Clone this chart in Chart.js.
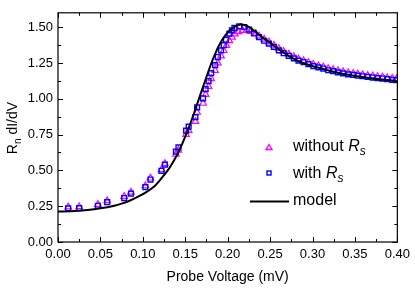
<!DOCTYPE html>
<html>
<head>
<meta charset="utf-8">
<script src="https://cdn.jsdelivr.net/npm/chart.js@4/dist/chart.umd.min.js"></script>
<style>
  html, body { margin: 0; padding: 0; background: #fff; }
  #wrap { width: 415px; height: 289px; position: relative; }
</style>
</head>
<body>
<div id="wrap"><canvas id="chart" width="415" height="289"></canvas></div>
<script>
// with R_s (blue squares)
const withRsV = [0.012,0.025,0.047,0.058,0.078,0.086,0.103,0.109,0.122,0.126,0.139,0.142,0.151,0.154,0.162,0.164,0.171,0.174,0.1775,0.1806,
  0.1852,0.1884,0.1922,0.1953,0.198,0.202,0.205,0.208,0.2137,0.2195,0.2253,0.231,0.237,0.243,0.2486,0.2545,0.2603,0.266,0.272,0.278,
  0.2835,0.2894,0.2952,0.301,0.307,0.3127,0.3185,0.3243,0.330,0.336,0.342,0.348,0.3534,0.359,0.365,0.371,0.3767,0.3825,0.388,0.394,0.399];
const withRsG = [0.235,0.236,0.253,0.278,0.307,0.338,0.383,0.436,0.497,0.540,0.631,0.660,0.777,0.805,0.872,0.940,1.003,1.067,1.123,1.179,
  1.235,1.291,1.338,1.374,1.412,1.455,1.478,1.495,1.506,1.501,1.483,1.456,1.430,1.405,1.385,1.362,1.338,1.318,1.300,1.282,
  1.266,1.255,1.242,1.228,1.219,1.211,1.199,1.193,1.184,1.177,1.170,1.166,1.161,1.157,1.152,1.148,1.144,1.141,1.137,1.132,1.130];

// without R_s (magenta triangles)
const noRsV = [0.012,0.025,0.047,0.058,0.078,0.086,0.103,0.109,0.122,0.126,0.139,0.142,0.151,0.154,0.162,0.164,0.171,0.174,0.1775,0.1806,
  0.1852,0.1884,0.1922,0.1953,0.1985,0.202,0.205,0.2085,0.2128,0.2175,0.2221,0.2271,0.233,0.237,0.243,0.2486,0.2545,0.2603,0.266,0.272,
  0.278,0.2835,0.2894,0.2952,0.301,0.307,0.3127,0.3185,0.3243,0.330,0.336,0.342,0.348,0.3534,0.359,0.365,0.371,0.3767,0.3825,0.388,0.394,0.399];
const noRsG = [0.245,0.246,0.262,0.288,0.318,0.348,0.392,0.446,0.505,0.548,0.612,0.640,0.750,0.778,0.842,0.905,0.968,1.030,1.085,1.140,
  1.198,1.250,1.298,1.336,1.372,1.405,1.430,1.452,1.468,1.477,1.478,1.470,1.455,1.438,1.416,1.396,1.373,1.350,1.330,1.311,
  1.294,1.278,1.266,1.253,1.240,1.230,1.222,1.211,1.204,1.196,1.189,1.182,1.177,1.172,1.168,1.163,1.159,1.155,1.151,1.147,1.143,1.139];

// model (black line)
const modelV = [0.000,0.020,0.035,0.050,0.065,0.075,0.085,0.095,0.105,0.113,0.122,0.130,0.136,0.142,0.150,0.157,0.163,0.169,0.174,0.179,
  0.185,0.191,0.197,0.203,0.209,0.2155,0.222,0.228,0.233,0.240,0.2525,0.262,0.272,0.281,0.291,0.301,0.311,0.320,0.330,0.340,
  0.350,0.360,0.369,0.380,0.390,0.400];
const modelG = [0.213,0.216,0.223,0.235,0.252,0.268,0.290,0.318,0.352,0.385,0.445,0.505,0.562,0.627,0.735,0.843,0.945,1.050,1.135,1.220,
  1.310,1.385,1.440,1.480,1.506,1.518,1.510,1.490,1.466,1.432,1.379,1.338,1.300,1.270,1.244,1.226,1.211,1.195,1.181,1.169,
  1.159,1.150,1.143,1.135,1.129,1.120];

const xTicks = [0,0.05,0.10,0.15,0.20,0.25,0.30,0.35,0.40];
const yTicks = [0,0.25,0.50,0.75,1.00,1.25,1.50];

const FONT = "'Liberation Sans', Arial, sans-serif";
const pts = (xs, ys) => xs.map((x, i) => ({ x, y: ys[i] }));

const decor = {
  id: 'decor',
  afterDraw(chart) {
    const { ctx, chartArea: a, scales: { x, y } } = chart;
    ctx.save();
    ctx.strokeStyle = '#000';
    ctx.lineWidth = 1.2;
    ctx.strokeRect(a.left, a.top, a.right - a.left, a.bottom - a.top);

    // inward ticks on all four sides
    ctx.lineWidth = 1;
    ctx.beginPath();
    for (let i = 0; i < xTicks.length; i++) {
      const px = Math.round(x.getPixelForValue(xTicks[i])) + 0.5;
      ctx.moveTo(px, a.bottom); ctx.lineTo(px, a.bottom - 5);
      ctx.moveTo(px, a.top); ctx.lineTo(px, a.top + 5);
      if (i < xTicks.length - 1) {
        const pm = Math.round(x.getPixelForValue(xTicks[i] + 0.025)) + 0.5;
        ctx.moveTo(pm, a.bottom); ctx.lineTo(pm, a.bottom - 3);
        ctx.moveTo(pm, a.top); ctx.lineTo(pm, a.top + 3);
      }
    }
    for (let i = 0; i < yTicks.length; i++) {
      const py = Math.round(y.getPixelForValue(yTicks[i])) + 0.5;
      ctx.moveTo(a.left, py); ctx.lineTo(a.left + 5, py);
      ctx.moveTo(a.right, py); ctx.lineTo(a.right - 5, py);
      const pm = Math.round(y.getPixelForValue(yTicks[i] + 0.125)) + 0.5;
      if (pm > a.top + 2) {
        ctx.moveTo(a.left, pm); ctx.lineTo(a.left + 3, pm);
        ctx.moveTo(a.right, pm); ctx.lineTo(a.right - 3, pm);
      }
    }
    ctx.stroke();

    // axis titles
    ctx.fillStyle = '#000';
    ctx.font = `14px ${FONT}`;
    ctx.textAlign = 'center';
    ctx.textBaseline = 'middle';
    ctx.fillText('Probe Voltage (mV)', (a.left + a.right) / 2, 277);

    ctx.save();
    ctx.translate(13, 128);
    ctx.rotate(-Math.PI / 2);
    ctx.textAlign = 'left';
    ctx.textBaseline = 'middle';
    ctx.font = `14px ${FONT}`;
    const wR = ctx.measureText('R').width;
    ctx.font = `10px ${FONT}`;
    const wn = ctx.measureText('n').width;
    ctx.font = `14px ${FONT}`;
    const wd = ctx.measureText(' dI/dV').width;
    let sx = -(wR + wn + wd) / 2;
    ctx.fillText('R', sx, 0); sx += wR;
    ctx.font = `10px ${FONT}`;
    ctx.fillText('n', sx, 5); sx += wn;
    ctx.font = `14px ${FONT}`;
    ctx.fillText(' dI/dV', sx, 0);
    ctx.restore();

    // legend
    const ds = chart.data.datasets;
    ctx.strokeStyle = ds[2].borderColor;
    ctx.lineWidth = 1.4;
    ctx.beginPath();
    ctx.moveTo(269, 144.5); ctx.lineTo(272, 149.5); ctx.lineTo(266, 149.5); ctx.closePath();
    ctx.stroke();
    ctx.strokeStyle = ds[1].borderColor;
    ctx.strokeRect(267, 171, 4, 4);
    ctx.strokeStyle = '#000';
    ctx.lineWidth = 2;
    ctx.beginPath(); ctx.moveTo(250, 201.5); ctx.lineTo(289, 201.5); ctx.stroke();

    const legText = (label, sub, yy) => {
      ctx.textAlign = 'left';
      ctx.textBaseline = 'middle';
      ctx.font = `16px ${FONT}`;
      ctx.fillText(label, 293, yy);
      if (!sub) return;
      let lx = 293 + ctx.measureText(label).width;
      ctx.font = `italic 16px ${FONT}`;
      ctx.fillText('R', lx, yy);
      lx += ctx.measureText('R').width;
      ctx.font = `italic 12px ${FONT}`;
      ctx.fillText('s', lx, yy + 5);
    };
    legText('without ', true, 147);
    legText('with ', true, 174);
    legText('model', false, 201);
    ctx.restore();
  }
};

new Chart(document.getElementById('chart'), {
  type: 'scatter',
  data: {
    datasets: [
      { label: 'model', type: 'line', data: pts(modelV, modelG), borderColor: '#000', borderWidth: 2,
        pointRadius: 0, tension: 0.4, cubicInterpolationMode: 'monotone', fill: false, order: 0 },
      { label: 'with Rs', data: pts(withRsV, withRsG), pointStyle: 'rect', pointRadius: 3.4,
        borderColor: '#0000ff', backgroundColor: 'rgba(0,0,0,0)', borderWidth: 1.4, order: 1 },
      { label: 'without Rs', data: pts(noRsV, noRsG), pointStyle: 'triangle', pointRadius: 3.8,
        borderColor: '#ff00ff', backgroundColor: 'rgba(0,0,0,0)', borderWidth: 1.2, order: 2 }
    ]
  },
  options: {
    responsive: false,
    animation: false,
    devicePixelRatio: 1,
    layout: { padding: { top: 3, right: 14, left: 0, bottom: 0 } },
    plugins: { legend: { display: false }, tooltip: { enabled: false } },
    scales: {
      x: {
        type: 'linear', min: 0, max: 0.4,
        afterBuildTicks: s => { s.ticks = xTicks.map(v => ({ value: v })); },
        afterFit: s => { s.height = 47; },
        grid: { display: false, drawTicks: false },
        border: { display: false },
        ticks: { color: '#000', font: { family: FONT, size: 13 }, padding: 5, maxRotation: 0,
          callback: v => v.toFixed(2) }
      },
      y: {
        type: 'linear', min: 0, max: 1.6,
        afterBuildTicks: s => { s.ticks = yTicks.map(v => ({ value: v })); },
        afterFit: s => { s.width = 58; },
        grid: { display: false, drawTicks: false },
        border: { display: false },
        ticks: { color: '#000', font: { family: FONT, size: 13 }, padding: 5,
          callback: v => v.toFixed(2) }
      }
    }
  },
  plugins: [decor]
});
</script>
</body>
</html>
